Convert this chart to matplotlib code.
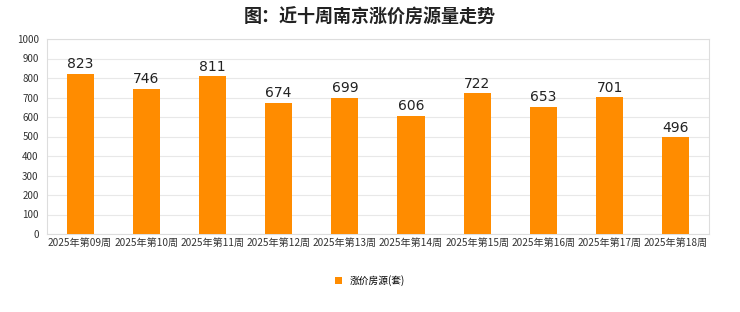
import matplotlib.pyplot as plt

plt.rcParams['font.family'] = ['Noto Sans CJK SC', 'DejaVu Sans']

weeks = ['2025年第09周', '2025年第10周', '2025年第11周', '2025年第12周', '2025年第13周',
         '2025年第14周', '2025年第15周', '2025年第16周', '2025年第17周', '2025年第18周']
counts = [823, 746, 811, 674, 699, 606, 722, 653, 701, 496]

fig = plt.figure(figsize=(7.4, 3.12), dpi=100)
ax = fig.add_axes([0.0635, 0.25, 0.8945, 0.625])

x = range(len(weeks))
bars = ax.bar(x, counts, width=0.41, color='#ff8c00', label='涨价房源(套)', zorder=3)
for i, v in enumerate(counts):
    ax.text(i, v + 12, str(v), ha='center', va='bottom', fontsize=10, color='#222222',
            family='DejaVu Sans')

ax.set_xlim(-0.5, len(weeks) - 0.5)
ax.set_ylim(0, 1000)
ax.set_yticks(range(0, 1001, 100))
ax.set_xticks(list(x))
ax.set_xticklabels(weeks, fontsize=7.3, color='#333333')
ax.tick_params(axis='y', labelsize=7, colors='#333333', length=0, pad=6)
ax.tick_params(axis='x', length=0, pad=3)
ax.grid(axis='y', color='#e8e8e8', linewidth=0.8, zorder=0)
for s in ax.spines.values():
    s.set_color('#dddddd')
    s.set_linewidth(0.8)

fig.suptitle('图：近十周南京涨价房源量走势', fontsize=13, fontweight='bold', color='#222222', y=0.975)

fig.legend(handles=[bars], loc='center', bbox_to_anchor=(0.5, 0.1), frameon=False,
           fontsize=7, handlelength=0.7, handleheight=0.7, handletextpad=0.8)

fig.savefig('out.png', dpi=100)
